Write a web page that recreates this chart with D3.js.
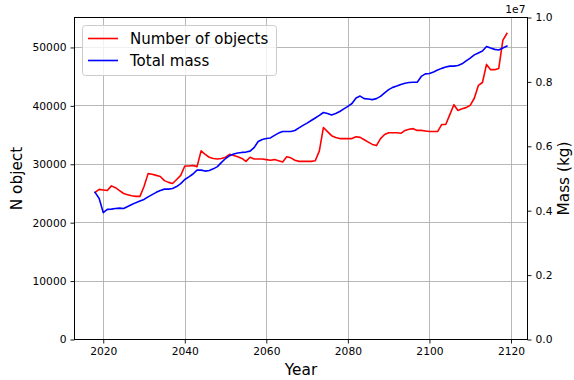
<!DOCTYPE html>
<html>
<head>
<meta charset="utf-8">
<script src="https://cdn.jsdelivr.net/npm/d3@7"></script>
<style>
  html, body { margin: 0; padding: 0; background: #fff; }
  svg { display: block; font-family: "DejaVu Sans", sans-serif; }
</style>
</head>
<body>
<svg id="chart" width="574" height="380"></svg>
<script>
// Simulation output: objects in orbit and their total mass, one value per year
const years = d3.range(2018, 2120);

const nObjects = [
  25200, 25700, 25600, 25500, 26300, 26000, 25500, 25000, 24800, 24600,
  24500, 24500, 26200, 28400, 28300, 28100, 27900, 27200, 26900, 26700,
  27400, 28100, 29700, 29700, 29800, 29600, 32300, 31700, 31200, 31000,
  30900, 31000, 31200, 31700, 31500, 31300, 31000, 30500, 31200, 30900,
  30900, 30900, 30800, 30700, 30800, 30600, 30400, 31300, 31100, 30700,
  30500, 30500, 30500, 30500, 30600, 32300, 36300, 35600, 34900, 34600,
  34400, 34400, 34400, 34400, 34700, 34600, 34200, 33800, 33400, 33200,
  34400, 35100, 35400, 35400, 35400, 35300, 35800, 36000, 36100, 35800,
  35800, 35700, 35600, 35600, 35600, 36800, 36800, 38500, 40200, 39200,
  39500, 39700, 40100, 41300, 43500, 44000, 47100, 46200, 46200, 46400,
  51200, 52400
];

const totalMass = [
  4.57e6, 4.38e6, 3.94e6, 4.04e6, 4.05e6, 4.07e6, 4.08e6, 4.07e6, 4.13e6, 4.19e6,
  4.25e6, 4.30e6, 4.35e6, 4.43e6, 4.50e6, 4.57e6, 4.63e6, 4.67e6, 4.67e6, 4.69e6,
  4.75e6, 4.84e6, 4.97e6, 5.05e6, 5.14e6, 5.26e6, 5.26e6, 5.23e6, 5.25e6, 5.30e6,
  5.37e6, 5.50e6, 5.62e6, 5.71e6, 5.76e6, 5.79e6, 5.81e6, 5.82e6, 5.85e6, 5.96e6,
  6.15e6, 6.21e6, 6.24e6, 6.26e6, 6.34e6, 6.41e6, 6.46e6, 6.46e6, 6.46e6, 6.49e6,
  6.57e6, 6.65e6, 6.72e6, 6.80e6, 6.88e6, 6.96e6, 7.05e6, 7.02e6, 6.97e6, 7.02e6,
  7.08e6, 7.16e6, 7.24e6, 7.33e6, 7.50e6, 7.56e6, 7.48e6, 7.47e6, 7.45e6, 7.48e6,
  7.55e6, 7.66e6, 7.76e6, 7.83e6, 7.87e6, 7.92e6, 7.96e6, 7.98e6, 7.99e6, 7.99e6,
  8.17e6, 8.25e6, 8.26e6, 8.31e6, 8.37e6, 8.42e6, 8.46e6, 8.49e6, 8.49e6, 8.51e6,
  8.56e6, 8.65e6, 8.74e6, 8.84e6, 8.90e6, 8.96e6, 9.10e6, 9.05e6, 9.01e6, 8.99e6,
  9.05e6, 9.11e6
];

const xTicks = [2020, 2040, 2060, 2080, 2100, 2120];
const leftTicks = [0, 10000, 20000, 30000, 40000, 50000];
const rightTicks = [0, 0.2e7, 0.4e7, 0.6e7, 0.8e7, 1.0e7];
const seriesNames = ["Number of objects", "Total mass"];
const seriesColors = ["#ff0000", "#0000ff"];

const svg = d3.select("#chart");
const box = { left: 74.5, right: 527.5, top: 17.5, bottom: 339.5 };
const tickFont = 10.7;

const x = d3.scaleLinear().domain([2012.95, 2124.05]).range([box.left, box.right]);
const yL = d3.scaleLinear().domain([0, 55130]).range([box.bottom, box.top]);
const yR = d3.scaleLinear().domain([0, 1e7]).range([box.bottom, box.top]);

// grid lines
const grid = svg.append("g").attr("stroke", "#b0b0b0").attr("stroke-width", 0.9);
grid.selectAll(".gx").data(xTicks).join("line")
  .attr("x1", d => Math.round(x(d)) + 0.5).attr("x2", d => Math.round(x(d)) + 0.5)
  .attr("y1", box.top).attr("y2", box.bottom);
grid.selectAll(".gy").data(leftTicks).join("line")
  .attr("y1", d => Math.round(yL(d) - 0.5) + 0.5).attr("y2", d => Math.round(yL(d) - 0.5) + 0.5)
  .attr("x1", box.left).attr("x2", box.right);

// series
const lineN = d3.line().x((d, i) => x(years[i])).y(d => yL(d));
const lineM = d3.line().x((d, i) => x(years[i])).y(d => yR(d));
const plot = svg.append("g");
plot.append("path").datum(nObjects).attr("d", lineN)
  .attr("fill", "none").attr("stroke", seriesColors[0]).attr("stroke-width", 1.6)
  .attr("stroke-linejoin", "round").attr("stroke-linecap", "square");
plot.append("path").datum(totalMass).attr("d", lineM)
  .attr("fill", "none").attr("stroke", seriesColors[1]).attr("stroke-width", 1.6)
  .attr("stroke-linejoin", "round").attr("stroke-linecap", "square");

// axes
function styleAxis(g) {
  g.select(".domain").remove();
  g.selectAll(".tick line").attr("stroke", "#000").attr("stroke-width", 0.9);
  g.selectAll(".tick text").attr("fill", "#000")
    .attr("font-size", tickFont).attr("font-family", "DejaVu Sans, sans-serif");
}
svg.append("g").attr("transform", `translate(0,${box.bottom})`)
  .call(d3.axisBottom(x).tickValues(xTicks).tickFormat(d3.format("d")).tickSize(4).tickPadding(4))
  .call(styleAxis);
svg.append("g").attr("transform", `translate(${box.left},0)`)
  .call(d3.axisLeft(yL).tickValues(leftTicks).tickFormat(d3.format("d")).tickSize(4).tickPadding(4))
  .call(styleAxis);
svg.append("g").attr("transform", `translate(${box.right},0)`)
  .call(d3.axisRight(yR).tickValues(rightTicks).tickFormat(d => (d / 1e7).toFixed(1)).tickSize(4).tickPadding(4))
  .call(styleAxis);

// frame
svg.append("rect").attr("x", box.left).attr("y", box.top)
  .attr("width", box.right - box.left).attr("height", box.bottom - box.top)
  .attr("fill", "none").attr("stroke", "#000").attr("stroke-width", 1);

// offset label of right axis
svg.append("text").attr("x", box.right - 2).attr("y", 13).attr("text-anchor", "end")
  .attr("font-size", tickFont).text("1e7");

// axis titles
const titleFont = 15.3;
svg.append("text").attr("x", (box.left + box.right) / 2).attr("y", 375)
  .attr("text-anchor", "middle").attr("font-size", titleFont).text("Year");
svg.append("text").attr("transform", `translate(22,${(box.top + box.bottom) / 2}) rotate(-90)`)
  .attr("text-anchor", "middle").attr("font-size", titleFont).text("N object");
svg.append("text").attr("transform", `translate(569,${(box.top + box.bottom) / 2}) rotate(-90)`)
  .attr("text-anchor", "middle").attr("font-size", titleFont).text("Mass (kg)");

// legend
const legend = svg.append("g").attr("transform", "translate(82,25)");
legend.append("rect").attr("x", 0.5).attr("y", 0.5).attr("width", 194).attr("height", 50)
  .attr("rx", 3).attr("fill", "#fff").attr("fill-opacity", 0.8)
  .attr("stroke", "#cccccc").attr("stroke-width", 1);
seriesNames.forEach((name, i) => {
  const yy = 13.5 + i * 22;
  legend.append("line").attr("x1", 6).attr("x2", 36).attr("y1", yy).attr("y2", yy)
    .attr("stroke", seriesColors[i]).attr("stroke-width", 1.6);
  legend.append("text").attr("x", 48).attr("y", yy + 5.3)
    .attr("font-size", 15).text(name);
});
</script>
</body>
</html>
